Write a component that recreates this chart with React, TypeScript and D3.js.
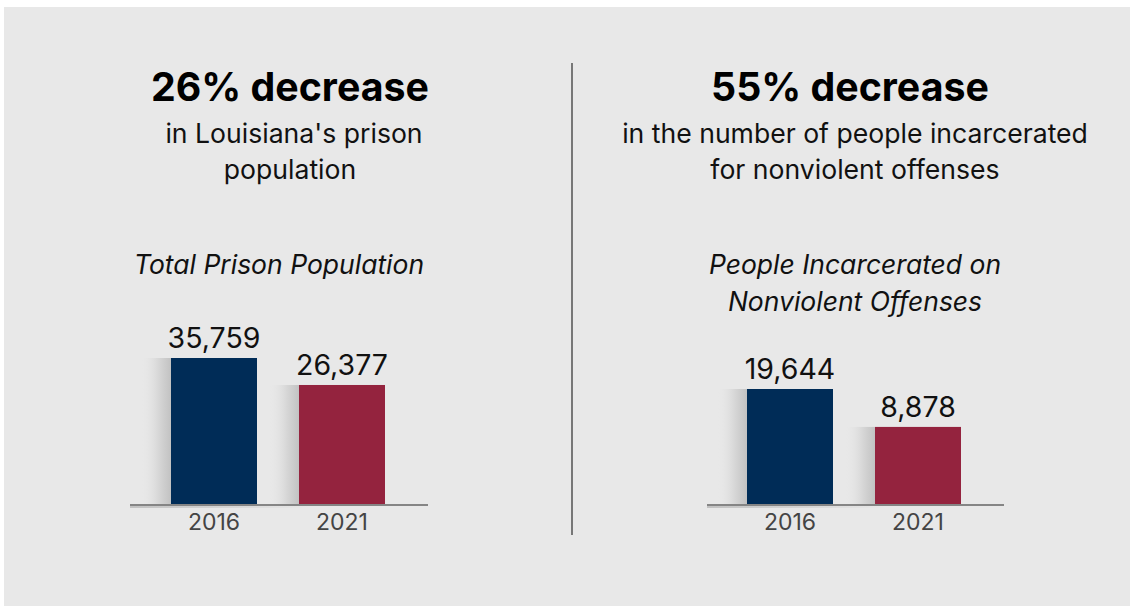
import React from "react";
import * as d3 from "d3";

const years = ["2016", "2021"];
const totalPrison = [35759, 26377];
const nonviolent = [19644, 8878];
const headlines = ["26% decrease", "55% decrease"];
const subLeft = ["in Louisiana's prison", "population"];
const subRight = ["in the number of people incarcerated", "for nonviolent offenses"];
const titleLeft = ["Total Prison Population"];
const titleRight = ["People Incarcerated on", "Nonviolent Offenses"];
const barColors = ["#002c57", "#94233e"];

const FONT = "Inter, 'Noto Sans', sans-serif";

type PanelProps = {
  values: number[];
  x0: number;
  x1: number;
  domainMin: number;
  yTop: number;
  axisX: [number, number];
  id: string;
};

function Panel({ values, x0, x1, domainMin, yTop, axisX, id }: PanelProps) {
  const baseY = 504;
  const x = d3
    .scaleBand<string>()
    .domain(years)
    .range([x0, x1])
    .paddingInner(42 / 128)
    .paddingOuter(21 / 128);
  const y = d3
    .scaleLinear()
    .domain([domainMin, d3.max(values) as number])
    .range([baseY, yTop]);
  const fmt = d3.format(",");
  return (
    <g>
      <defs>
        <linearGradient id={`sh-${id}`} x1="0" x2="1" y1="0" y2="0">
          <stop offset="0%" stopColor="#e8e8e8" stopOpacity={0} />
          <stop offset="60%" stopColor="#d6d6d6" stopOpacity={1} />
          <stop offset="100%" stopColor="#c2c2c2" stopOpacity={1} />
        </linearGradient>
        <linearGradient id={`ax-${id}`} x1="0" x2="1" y1="0" y2="0">
          <stop offset="0%" stopColor="#bdbdbd" stopOpacity={0.9} />
          <stop offset="100%" stopColor="#bdbdbd" stopOpacity={0} />
        </linearGradient>
      </defs>
      {years.map((yr, i) => (
        <rect
          key={`s${yr}`}
          x={(x(yr) as number) - 30}
          y={y(values[i])}
          width={30}
          height={baseY - y(values[i])}
          fill={`url(#sh-${id})`}
        />
      ))}
      <rect
        x={axisX[0]}
        y={baseY + 1}
        width={(axisX[1] - axisX[0]) * 0.6}
        height={3}
        fill={`url(#ax-${id})`}
      />
      {years.map((yr, i) => (
        <rect
          key={yr}
          x={x(yr)}
          y={y(values[i])}
          width={x.bandwidth()}
          height={baseY - y(values[i])}
          fill={barColors[i]}
        />
      ))}
      <line
        x1={axisX[0]}
        x2={axisX[1]}
        y1={baseY + 1}
        y2={baseY + 1}
        stroke="#858585"
        strokeWidth={2}
      />
      {years.map((yr, i) => (
        <text
          key={`v${yr}`}
          x={(x(yr) as number) + x.bandwidth() / 2}
          y={y(values[i]) - 10}
          textAnchor="middle"
          fontSize={28.5}
          fill="#111"
          fontFamily={FONT}
        >
          {fmt(values[i])}
        </text>
      ))}
      {years.map((yr) => (
        <text
          key={`l${yr}`}
          x={(x(yr) as number) + x.bandwidth() / 2}
          y={530}
          textAnchor="middle"
          fontSize={23}
          fill="#444"
          fontFamily={FONT}
        >
          {yr}
        </text>
      ))}
    </g>
  );
}

export default function App() {
  return (
    <div style={{ position: "absolute", left: 0, top: 0 }}>
      <svg width={1130} height={607} style={{ display: "block" }}>
        <rect x={0} y={0} width={1130} height={607} fill="#ffffff" />
        <rect x={4} y={7} width={1126} height={599} fill="#e8e8e8" />
        <line x1={572} x2={572} y1={63} y2={535} stroke="#777" strokeWidth={2} />

        <text x={290} y={101} textAnchor="middle" fontSize={39.3} fontWeight={700} fill="#000" fontFamily={FONT}>
          {headlines[0]}
        </text>
        {subLeft.map((s, i) => (
          <text key={s} x={[294, 290][i]} y={143 + i * 36} textAnchor="middle" fontSize={26.6} fill="#111" fontFamily={FONT}>
            {s}
          </text>
        ))}
        <text x={850} y={101} textAnchor="middle" fontSize={39.3} fontWeight={700} fill="#000" fontFamily={FONT}>
          {headlines[1]}
        </text>
        {subRight.map((s, i) => (
          <text key={s} x={855} y={143 + i * 36} textAnchor="middle" fontSize={26.6} fill="#111" fontFamily={FONT}>
            {s}
          </text>
        ))}
        {titleLeft.map((s, i) => (
          <text key={s} x={279} y={274 + i * 37} textAnchor="middle" fontSize={26.5} fontStyle="italic" fill="#111" fontFamily={FONT}>
            {s}
          </text>
        ))}
        {titleRight.map((s, i) => (
          <text key={s} x={855} y={274 + i * 37} textAnchor="middle" fontSize={26.5} fontStyle="italic" fill="#111" fontFamily={FONT}>
            {s}
          </text>
        ))}

        <Panel values={totalPrison} x0={150} x1={406} domainMin={-15000} yTop={358} axisX={[130, 428]} id="l" />
        <Panel values={nonviolent} x0={726} x1={982} domainMin={-13000} yTop={389} axisX={[707, 1004]} id="r" />
      </svg>
    </div>
  );
}
